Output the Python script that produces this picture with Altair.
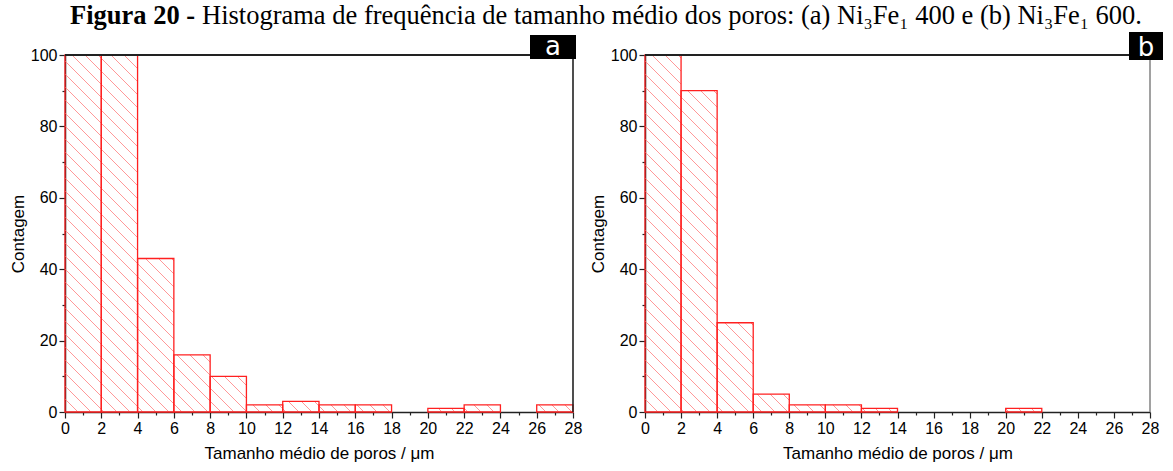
import altair as alt
import numpy as np
import pandas as pd

# Pore-size histogram bins (µm) and counts per bin
bin_starts = [0, 2, 4, 6, 8, 10, 12, 14, 16, 18, 20, 22, 24, 26]
bin_width = 2
counts_400 = [100, 100, 43, 16, 10, 2, 3, 2, 2, 0, 1, 2, 0, 2]
counts_600 = [100, 90, 25, 5, 2, 2, 1, 0, 0, 0, 1, 0, 0, 0]

x_ticks = list(range(0, 29))
y_ticks = list(range(0, 101, 10))

title_bold = "Figura 20 -"
title_rest = "Histograma de frequência de tamanho médio dos poros: (a) Ni₃Fe₁ 400 e (b) Ni₃Fe₁ 600."
x_title = "Tamanho médio de poros / μm"
y_title = "Contagem"

X_MAX, Y_MAX = 28, 100
HEIGHT = 357
WIDTH_A, WIDTH_B = 508, 505
HATCH_GAP = 13          # vertical distance between hatch lines (px)
RED = "#ff2020"
HATCH = "#ff8c8c"
FRAME = "#222222"
TITLE_SIZE = 26.5
TITLE_BASELINE = -31    # relative to the top of the left panel


def hatch_lines(bars, sx, sy):
    """Diagonal (top-left to bottom-right) hatch segments clipped to each bar."""
    rows = []
    for s, e, n in bars[["start", "end", "count"]].itertuples(index=False):
        x0, x1, top = s * sx, e * sx, n * sy
        c = (np.floor(x0 / HATCH_GAP) + 1) * HATCH_GAP
        while c < x1 + top:
            xa, xb = max(x0, c - top), min(x1, c)
            if xb > xa:
                rows.append({"hx": xa / sx, "hy": (c - xa) / sy,
                             "hx2": xb / sx, "hy2": (c - xb) / sy})
            c += HATCH_GAP
    return pd.DataFrame(rows)


def panel(counts, width, letter, box, right_color, header=False):
    sx, sy = width / X_MAX, HEIGHT / Y_MAX
    bars = pd.DataFrame({"start": bin_starts,
                         "end": [s + bin_width for s in bin_starts],
                         "count": counts})
    bars = bars[bars["count"] > 0]
    hatch = hatch_lines(bars, sx, sy)

    xs = alt.Scale(domain=[0, X_MAX], nice=False, zero=False)
    ys = alt.Scale(domain=[0, Y_MAX], nice=False)
    x_axis = alt.Axis(values=x_ticks, title=x_title, grid=False,
                      labelExpr="datum.value % 2 ? '' : datum.label",
                      tickSize={"condition": {"test": "datum.value % 2", "value": 3}, "value": 6},
                      labelFlush=False, labelOverlap=False, labelPadding=2, titlePadding=9)
    y_axis = alt.Axis(values=y_ticks, title=y_title, grid=False,
                      labelExpr="datum.value % 20 ? '' : datum.label",
                      tickSize={"condition": {"test": "datum.value % 20", "value": 3}, "value": 6},
                      labelFlush=False, labelOverlap=False, labelPadding=2, titlePadding=3)

    hatch_layer = alt.Chart(hatch).mark_rule(stroke=HATCH, strokeWidth=0.9).encode(
        x=alt.X("hx:Q", scale=xs, axis=x_axis), x2="hx2:Q",
        y=alt.Y("hy:Q", scale=ys, axis=y_axis), y2="hy2:Q")
    bar_layer = alt.Chart(bars).mark_rect(fillOpacity=0, stroke=RED, strokeWidth=1.3).encode(
        x=alt.X("start:Q", scale=xs, axis=x_axis), x2="end:Q",
        y=alt.Y("count:Q", scale=ys, axis=y_axis), y2=alt.datum(0))

    one = pd.DataFrame({"k": [0]})
    top_line = alt.Chart(one).mark_rule(stroke=FRAME, strokeWidth=1.8).encode(
        x=alt.value(0), x2=alt.value(width), y=alt.value(0))
    right_line = alt.Chart(one).mark_rule(stroke=right_color, strokeWidth=1.6).encode(
        x=alt.value(width), y=alt.value(0), y2=alt.value(HEIGHT))

    bx0, bx1, by0, by1 = box
    tag_box = alt.Chart(one).mark_rect(color="black").encode(
        x=alt.value(bx0), x2=alt.value(bx1), y=alt.value(by0), y2=alt.value(by1))
    tag_text = alt.Chart(pd.DataFrame({"t": [letter]})).mark_text(
        font="DejaVu Sans", fontSize=26, color="white", align="center", baseline="alphabetic").encode(
        x=alt.value((bx0 + bx1) / 2), y=alt.value(by1 - 4), text="t:N")

    layers = [hatch_layer, bar_layer, top_line, right_line, tag_box, tag_text]
    if header:
        head_bold = alt.Chart(pd.DataFrame({"t": [title_bold]})).mark_text(
            font="Liberation Serif", fontSize=TITLE_SIZE, fontWeight="bold", color="black",
            align="left", baseline="alphabetic").encode(
            x=alt.value(5), y=alt.value(TITLE_BASELINE), text="t:N")
        head_rest = alt.Chart(pd.DataFrame({"t": [title_rest]})).mark_text(
            font="Liberation Serif", fontSize=TITLE_SIZE, color="black",
            align="left", baseline="alphabetic").encode(
            x=alt.value(137), y=alt.value(TITLE_BASELINE), text="t:N")
        layers += [head_bold, head_rest]
    return alt.layer(*layers).properties(width=width, height=HEIGHT)


panel_a = panel(counts_400, WIDTH_A, "a", (465, 511, -20, 4), FRAME, header=True)
panel_b = panel(counts_600, WIDTH_B, "b", (484, 518, -23, 5), "#8a8a8a")

chart = alt.hconcat(panel_a, panel_b, spacing=72, bounds="flush").properties(
    padding={"left": 9, "top": 3, "right": 10, "bottom": 8}
).configure_view(stroke=None).configure_axis(
    labelFont="Liberation Sans", labelFontSize=16, labelColor="black",
    titleFont="Liberation Sans", titleFontSize=17, titleFontWeight="normal", titleColor="black",
    domainColor=FRAME, domainWidth=1.5, tickColor=FRAME, tickWidth=1.2, grid=False)

chart.save("out.html", embed_options={"renderer": "svg", "actions": False})
